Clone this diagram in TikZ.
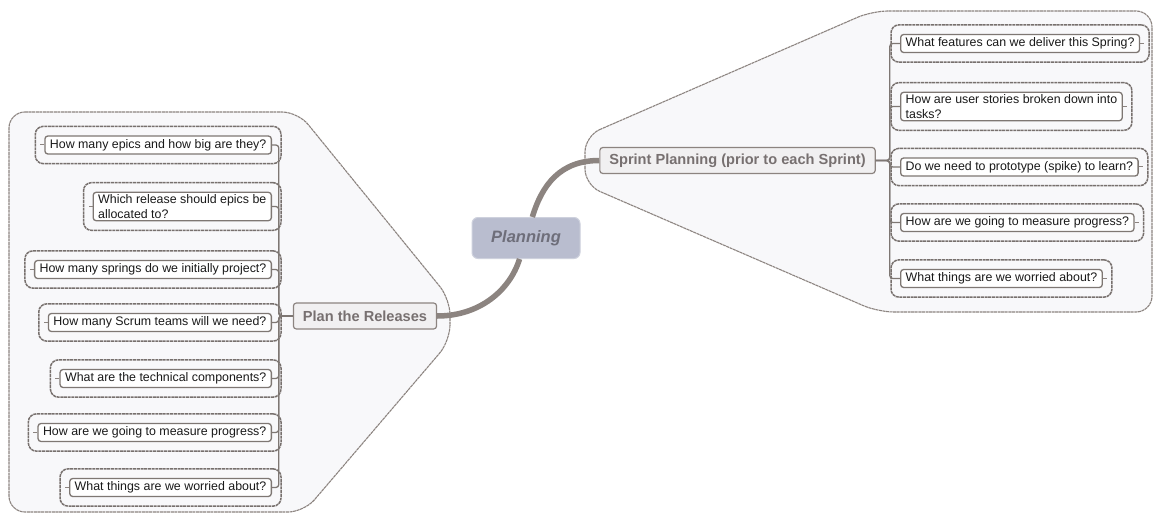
\documentclass[tikz,border=0pt]{standalone}
\usepackage{fontspec}
\setmainfont{Liberation Sans}
\usepackage{xcolor}
\usepackage{tikz}
\usetikzlibrary{positioning, calc, fit}

\definecolor{mmline}{HTML}{8C8480}
\definecolor{mmfill}{HTML}{F8F8FA}
\definecolor{mmblue}{HTML}{B9BDCF}
\definecolor{mmtext}{HTML}{6E6E7A}
\definecolor{topicfill}{HTML}{F1F0F1}
\definecolor{topictext}{HTML}{777070}

\begin{document}
\begin{tikzpicture}[x=1pt, y=-1pt,
    central/.style={rectangle, rounded corners=6pt, fill=mmblue, draw=mmblue!70!white, line width=1pt, minimum width=108pt, minimum height=41pt, font=\fontsize{16.5}{19}\selectfont\bfseries\itshape, text=mmtext},
    topic/.style={rectangle, rounded corners=3pt, draw=mmline, line width=1.2pt, fill=topicfill, text=topictext, inner xsep=9.5pt, minimum height=26pt, font=\fontsize{14.6}{17}\selectfont\bfseries},
    leaf/.style={rectangle, rounded corners=3pt, draw=mmline!90!black, line width=1.3pt, fill=white, align=left, inner xsep=5pt, inner ysep=2.5pt, minimum height=18pt, font=\fontsize{12.4}{14.3}\selectfont, text=black!90},
    cluster/.style={rectangle, rounded corners=8pt, draw=mmline!85!black, line width=1.5pt, dash pattern=on 3pt off 0.7pt, inner sep=9pt},
    region/.style={draw=mmline, line width=1.1pt, dash pattern=on 3pt off 0.6pt, fill=mmfill, rounded corners=16pt},
    branch/.style={draw=mmline, line width=5.5pt},
    trunk/.style={draw=mmline!90!black, line width=1.3pt, rounded corners=3pt},
    stub/.style={draw=mmline, line width=1pt}
]
\fill[white] (0,0) rectangle (1157,516);
\useasboundingbox (0,0) rectangle (1157,516);

% Branch regions
\path[region] (9,112) -- (298,112) -- (450,299) -- (450,341) -- (304,512) -- (9,512) -- cycle;
\path[region] (585,136) -- (872,11) -- (1152,11) -- (1152,312) -- (878,312) -- (585,185) -- cycle;

% Main topics
\node[central] (planning) at (526,238) {Planning};
\node[topic] (plan) at (365,316) {Plan the Releases};
\node[topic] (sprint) at (737.5,160.5) {Sprint Planning (prior to each Sprint)};

% Left questions
\node[leaf, anchor=east] (l1) at (272,145) {How many epics and how big are they?};
\node[leaf, anchor=east] (l2) at (272,206.5) {Which release should epics be\\allocated to?};
\node[leaf, anchor=east] (l3) at (272,269.5) {How many springs do we initially project?};
\node[leaf, anchor=east] (l4) at (272,322.5) {How many Scrum teams will we need?};
\node[leaf, anchor=east] (l5) at (272,378.5) {What are the technical components?};
\node[leaf, anchor=east] (l6) at (272,432.5) {How are we going to measure progress?};
\node[leaf, anchor=east] (l7) at (272,487.5) {What things are we worried about?};

% Right questions
\node[leaf, anchor=west] (r1) at (900,43.5) {What features can we deliver this Spring?};
\node[leaf, anchor=west] (r2) at (900,106.5) {How are user stories broken down into\\tasks?};
\node[leaf, anchor=west] (r3) at (900,167) {Do we need to prototype (spike) to learn?};
\node[leaf, anchor=west] (r4) at (900,222.5) {How are we going to measure progress?};
\node[leaf, anchor=west] (r5) at (900,278.5) {What things are we worried about?};

% Frames round the questions
\foreach \n in {l1,l2,l3,l4,l5,l6,l7,r1,r2,r3,r4,r5}
  \node[cluster, fit=(\n)] (\n o) {};

% Connections
\draw[branch] (plan.east) .. controls (480,316) and (510,290) .. (planning);
\draw[branch] (sprint.west) .. controls (560,160.5) and (542,185) .. (planning);

\foreach \n in {l1,l2,l3,l4,l5,l6,l7}
  \draw[trunk] (plan.west) -- ++(-14,0) |- (\n.east);
\foreach \n in {r1,r2,r3,r4,r5}
  \draw[trunk] (sprint.east) -- ++(14,0) |- (\n.west);

\foreach \n in {l1,l2,l3,l4,l5,l6,l7}
  \draw[stub] (\n.west) -- ++(-4,0);
\foreach \n in {r1,r2,r3,r4,r5}
  \draw[stub] (\n.east) -- ++(4,0);
\end{tikzpicture}
\end{document}
